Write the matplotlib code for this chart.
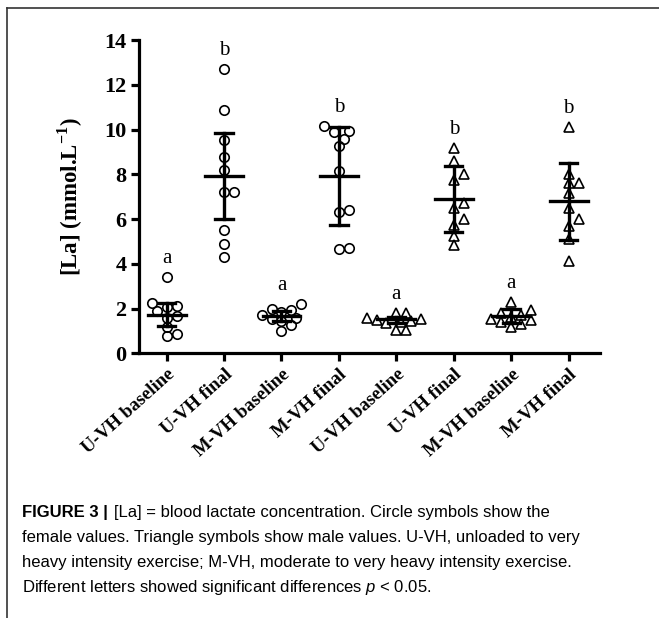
import matplotlib.pyplot as plt
from matplotlib.lines import Line2D
import numpy as np

plt.rcParams['mathtext.fontset'] = 'custom'
plt.rcParams['mathtext.rm'] = 'Liberation Serif'
plt.rcParams['mathtext.bf'] = 'Liberation Serif:bold'
plt.rcParams['mathtext.it'] = 'Liberation Sans:italic'

groups = ["U-VH baseline", "U-VH final", "M-VH baseline", "M-VH final",
          "U-VH baseline", "U-VH final", "M-VH baseline", "M-VH final"]

# individual values (females = first four, males = last four)
uvh_base_f = [3.42, 2.25, 2.11, 2.08, 1.90, 1.67, 1.60, 1.19, 0.77, 0.89]
uvh_fin_f  = [12.70, 10.90, 9.53, 8.78, 8.21, 7.21, 7.21, 5.50, 4.91, 4.31]
mvh_base_f = [2.20, 1.97, 1.95, 1.85, 1.70, 1.60, 1.55, 1.45, 1.26, 1.01]
mvh_fin_f  = [10.16, 9.95, 9.90, 9.60, 9.28, 8.16, 6.43, 6.31, 4.65, 4.72]
uvh_base_m = [1.83, 1.79, 1.60, 1.55, 1.50, 1.45, 1.40, 1.35, 1.06, 1.04]
uvh_fin_m  = [9.20, 8.61, 8.04, 7.77, 6.73, 6.48, 5.99, 5.73, 5.24, 4.83]
mvh_base_m = [2.31, 1.93, 1.80, 1.70, 1.62, 1.55, 1.48, 1.40, 1.30, 1.20]
mvh_fin_m  = [10.13, 8.04, 7.62, 7.62, 7.15, 6.48, 6.00, 5.69, 5.11, 4.14]

values = [uvh_base_f, uvh_fin_f, mvh_base_f, mvh_fin_f,
          uvh_base_m, uvh_fin_m, mvh_base_m, mvh_fin_m]

means = [1.74, 7.92, 1.67, 7.92, 1.52, 6.90, 1.66, 6.80]
sd_hi = [2.26, 9.85, 1.88, 10.13, 1.64, 8.37, 1.97, 8.52]
sd_lo = [1.22, 5.99, 1.45, 5.73, 1.38, 5.44, 1.36, 5.09]
letters = ["a", "b", "a", "b", "a", "b", "a", "b"]

fig = plt.figure(figsize=(6.59, 6.18), dpi=100)
ax = fig.add_axes([0.211, 0.428, 0.699, 0.507])
ax.set_xlim(-0.48, 7.54)
ax.set_ylim(0, 14)

# px per data unit, used to spread overlapping points sideways
fig.canvas.draw()
p0 = ax.transData.transform((0, 0))
p1 = ax.transData.transform((1, 1))
sx, sy = p1[0] - p0[0], p1[1] - p0[1]
diam = 9.0  # px


def swarm(vals):
    placed = []
    offs = [0.0] * len(vals)
    order = np.argsort(vals)
    for i in order:
        y = vals[i] * sy
        k = 0
        while True:
            cands = [0.0] if k == 0 else [k * diam * 0.55, -k * diam * 0.55]
            ok = None
            for c in cands:
                if all((c - px) ** 2 + (y - py) ** 2 >= (diam * 0.95) ** 2 for px, py in placed):
                    ok = c
                    break
            if ok is not None:
                offs[i] = ok / sx
                placed.append((ok, y))
                break
            k += 1
    return offs


for i, vals in enumerate(values):
    mk = 'o' if i < 4 else '^'
    ms = 6.8 if i < 4 else 7.2
    offs = swarm(vals)
    # mean and SD bars
    ax.plot([i - 0.33, i + 0.33], [means[i], means[i]], color='black', lw=2.4, zorder=3)
    ax.plot([i, i], [sd_lo[i], sd_hi[i]], color='black', lw=2.4, zorder=3)
    ax.plot([i - 0.15, i + 0.15], [sd_hi[i], sd_hi[i]], color='black', lw=2.4, zorder=3)
    ax.plot([i - 0.15, i + 0.15], [sd_lo[i], sd_lo[i]], color='black', lw=2.4, zorder=3)
    ax.plot(i + np.array(offs), vals, linestyle='none', marker=mk, ms=ms,
            mfc='none', mec='black', mew=1.2, zorder=4)
    top = max(max(vals), sd_hi[i])
    ax.text(i, top + 0.4, letters[i], ha='center', va='bottom',
            family='Liberation Serif', fontsize=15)

for s in ['top', 'right']:
    ax.spines[s].set_visible(False)
for s in ['left', 'bottom']:
    ax.spines[s].set_linewidth(2.3)

ax.set_yticks(range(0, 15, 2))
ax.set_xticks(range(len(groups)))
ax.set_xticklabels(groups, rotation=42, ha='right', rotation_mode='anchor',
                   family='Liberation Serif', fontweight='bold', fontsize=13.5)
for lab in ax.get_yticklabels():
    lab.set_family('Liberation Serif')
    lab.set_fontweight('bold')
    lab.set_fontsize(16)
ax.tick_params(axis='both', width=2.3, length=6, direction='out', pad=3)
ax.set_ylabel("[La] (mmol.L$^{\\mathbf{-1}}$)", family='Liberation Serif',
              fontweight='bold', fontsize=16.5, labelpad=14)

# frame of the figure panel (top and left)
fig.add_artist(Line2D([7 / 659, 1], [1 - 8 / 618, 1 - 8 / 618], color='#333333', lw=1.2))
fig.add_artist(Line2D([7 / 659, 7 / 659], [0, 1 - 8 / 618], color='#333333', lw=1.2))

# caption
cap_fs = 12.0
t0 = fig.text(22 / 659, 1 - 517 / 618, "FIGURE 3 |", family='Liberation Sans',
              fontweight='bold', fontsize=cap_fs, va='baseline')
fig.canvas.draw()
bb = t0.get_window_extent()
fig.text((bb.x1 + 6) / 659, 1 - 517 / 618,
         "[La] = blood lactate concentration. Circle symbols show the",
         family='Liberation Sans', fontsize=cap_fs, va='baseline')
cap_lines = [
    "female values. Triangle symbols show male values. U-VH, unloaded to very",
    "heavy intensity exercise; M-VH, moderate to very heavy intensity exercise.",
    "Different letters showed significant differences $p$ < 0.05.",
]
for k, ln in enumerate(cap_lines):
    fig.text(22 / 659, 1 - (542 + 25 * k) / 618, ln, family='Liberation Sans',
             fontsize=cap_fs, va='baseline')

fig.savefig("out.png", dpi=100)
